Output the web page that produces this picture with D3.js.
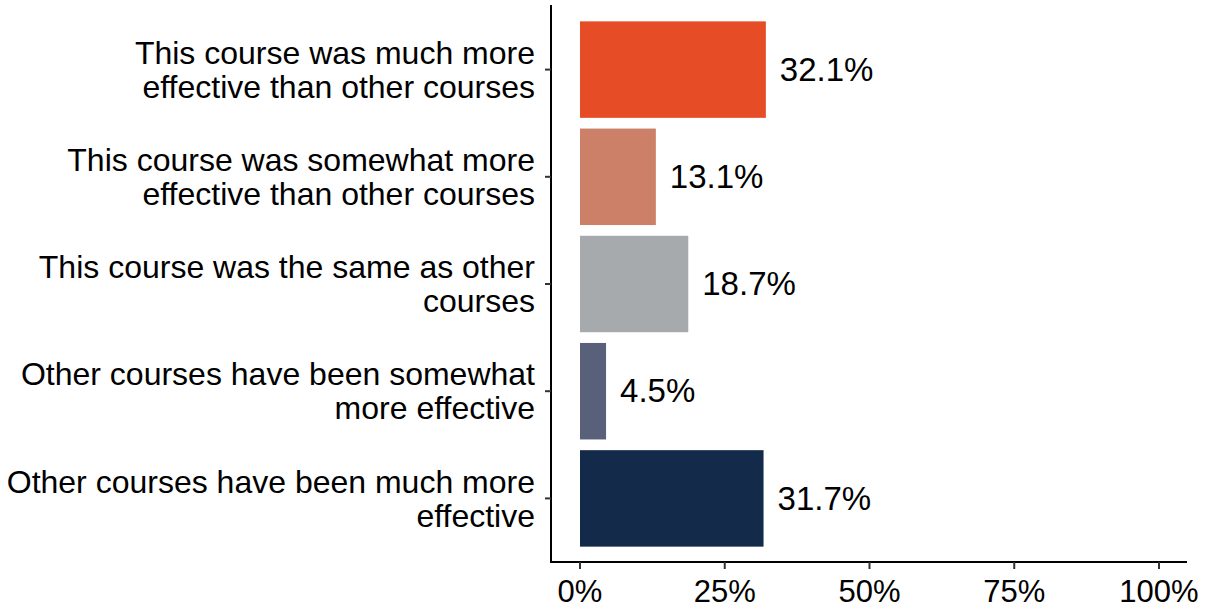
<!DOCTYPE html>
<html><head><meta charset="utf-8">
<script src="https://cdn.jsdelivr.net/npm/d3@7"></script>
<style>body{margin:0;background:#fff}text{font-family:"Liberation Sans",Arial,sans-serif}</style>
</head><body>
<svg id="c" width="1212" height="608"></svg>
<script>
const categories = [
  ["This course was much more", "effective than other courses"],
  ["This course was somewhat more", "effective than other courses"],
  ["This course was the same as other", "courses"],
  ["Other courses have been somewhat", "more effective"],
  ["Other courses have been much more", "effective"]
];
const values = [32.1, 13.1, 18.7, 4.5, 31.7];
const colors = ["#E64D26", "#CC8068", "#A7AAAD", "#596079", "#142A4B"];
const xTicks = [0, 25, 50, 75, 100];

const svg = d3.select("#c");
const x = d3.scaleLinear().domain([0, 100]).range([580, 1159]);
const y = d3.scaleBand().domain(d3.range(categories.length)).range([16, 552]).paddingInner(0.1).paddingOuter(0.05);

// bars
svg.selectAll("rect.bar").data(values).join("rect")
  .attr("x", x(0)).attr("y", (d, i) => y(i))
  .attr("width", d => x(d) - x(0)).attr("height", y.bandwidth())
  .attr("fill", (d, i) => colors[i]);

// value labels
svg.selectAll("text.val").data(values).join("text")
  .attr("x", d => x(d) + 14).attr("y", (d, i) => y(i) + y.bandwidth() / 2)
  .attr("dy", "0.34em").attr("font-size", 33).attr("fill", "#000")
  .text(d => d.toFixed(1) + "%");

// axes lines
svg.append("line").attr("x1", 551).attr("x2", 551).attr("y1", 5).attr("y2", 563).attr("stroke", "#000").attr("stroke-width", 2);
svg.append("line").attr("x1", 550).attr("x2", 1187).attr("y1", 562).attr("y2", 562).attr("stroke", "#000").attr("stroke-width", 2);

// y ticks and labels
categories.forEach((lines, i) => {
  const cy = y(i) + y.bandwidth() / 2;
  svg.append("line").attr("x1", 545).attr("x2", 551).attr("y1", cy).attr("y2", cy).attr("stroke", "#333").attr("stroke-width", 2);
  const t = svg.append("text").attr("text-anchor", "end").attr("font-size", 32).attr("fill", "#000");
  const n = lines.length;
  lines.forEach((l, j) => {
    t.append("tspan").attr("x", 535).attr("y", cy + (j - (n - 1) / 2) * 34).attr("dy", "0.35em").text(l);
  });
});

// x ticks
xTicks.forEach(v => {
  svg.append("line").attr("x1", x(v)).attr("x2", x(v)).attr("y1", 562).attr("y2", 569).attr("stroke", "#333").attr("stroke-width", 2);
  svg.append("text").attr("x", x(v)).attr("y", 602).attr("text-anchor", "middle")
    .attr("font-size", 31).attr("fill", "#000").text(v + "%");
});
</script>
</body></html>
